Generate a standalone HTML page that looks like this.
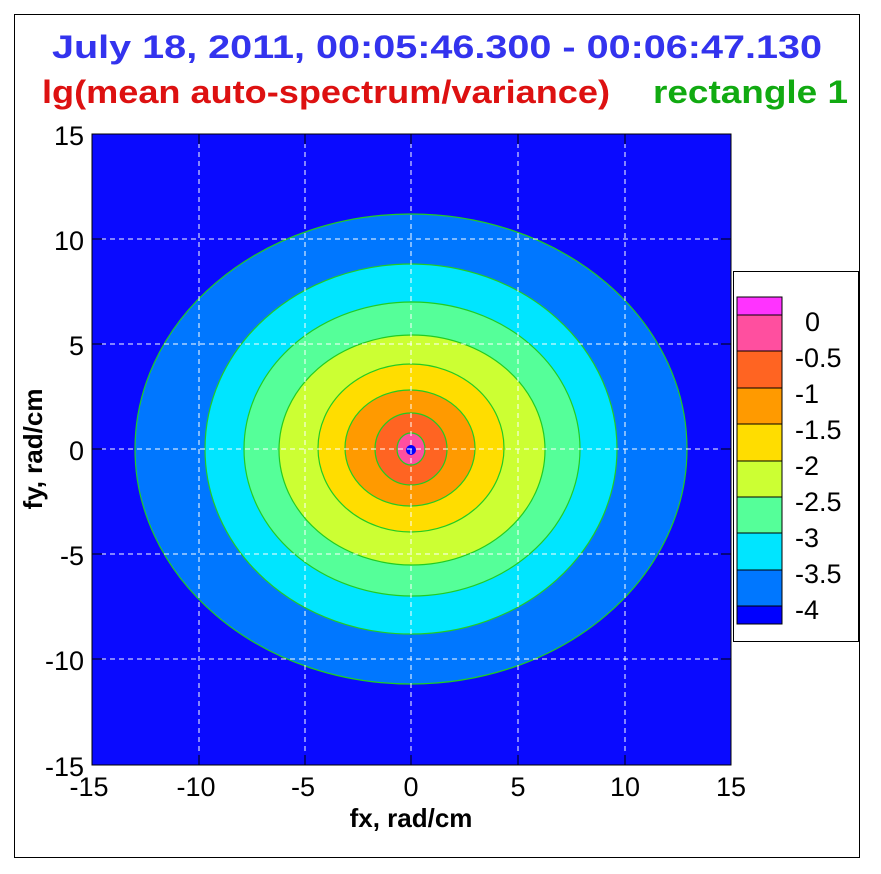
<!DOCTYPE html>
<html><head><style>body{margin:0;background:#fff}svg{display:block}</style></head><body>
<svg width="881" height="874" xmlns="http://www.w3.org/2000/svg" font-family="Liberation Sans, sans-serif">
<rect x="0" y="0" width="881" height="874" fill="#fff"/>
<rect x="14.5" y="14.5" width="845" height="843" fill="none" stroke="#000" stroke-width="1"/>
<text x="52" y="58" font-size="32" font-weight="bold" fill="#3333ee" textLength="770" lengthAdjust="spacingAndGlyphs">July 18, 2011,  00:05:46.300 - 00:06:47.130</text>
<text x="42" y="103" font-size="32" font-weight="bold" fill="#dd1111" textLength="568" lengthAdjust="spacingAndGlyphs">lg(mean auto-spectrum/variance)</text>
<text x="653" y="103" font-size="32" font-weight="bold" fill="#11aa11" textLength="195" lengthAdjust="spacingAndGlyphs">rectangle 1</text>
<defs><clipPath id="c"><rect x="92" y="134" width="639" height="631"/></clipPath></defs>
<g clip-path="url(#c)" stroke="#22cc22" stroke-width="1.2">
<rect x="92" y="134" width="639" height="631" fill="#0a0aff" stroke="none"/>
<ellipse cx="411" cy="449" rx="276" ry="235" fill="#0077ff"/>
<ellipse cx="411" cy="449" rx="206" ry="185" fill="#00e5ff"/>
<ellipse cx="412" cy="449" rx="168" ry="147" fill="#55ff99"/>
<ellipse cx="412" cy="450" rx="133" ry="115" fill="#ccff33"/>
<ellipse cx="411" cy="448" rx="93" ry="84" fill="#ffdd00"/>
<ellipse cx="410" cy="448" rx="65" ry="58" fill="#ff9a00"/>
<ellipse cx="411" cy="449" rx="36" ry="36" fill="#ff6422"/>
<ellipse cx="411" cy="449" rx="14" ry="16" fill="#ff4f9f"/>
<circle cx="411" cy="450" r="5" fill="#0000ff" stroke="none"/>
</g>
<g stroke="#fff" stroke-width="1" stroke-dasharray="5,4">
<line x1="199" y1="134" x2="199" y2="765"/><line x1="305" y1="134" x2="305" y2="765"/><line x1="411" y1="134" x2="411" y2="765"/><line x1="518" y1="134" x2="518" y2="765"/><line x1="625" y1="134" x2="625" y2="765"/>
<line x1="92" y1="239" x2="731" y2="239"/><line x1="92" y1="344" x2="731" y2="344"/><line x1="92" y1="449" x2="731" y2="449"/><line x1="92" y1="554" x2="731" y2="554"/><line x1="92" y1="659" x2="731" y2="659"/>
</g>
<rect x="92" y="134" width="639" height="631" fill="none" stroke="#000" stroke-width="1"/>
<g stroke="#000" stroke-width="1">
<path d="M92 239h10M92 344h10M92 449h10M92 554h10M92 659h10M199 765v-10M305 765v-10M411 765v-10M518 765v-10M625 765v-10M731 239h-10M731 344h-10M731 449h-10M731 554h-10M731 659h-10M199 134v10M305 134v10M411 134v10M518 134v10M625 134v10"/>
</g>
<g font-size="27" fill="#000" text-anchor="end">
<text x="84" y="145">15</text><text x="84" y="250">10</text><text x="84" y="355">5</text><text x="84" y="460">0</text><text x="84" y="565">-5</text><text x="84" y="670">-10</text><text x="84" y="776">-15</text>
</g>
<g font-size="27" fill="#000" text-anchor="middle">
<text x="89" y="796">-15</text><text x="196" y="796">-10</text><text x="303" y="796">-5</text><text x="411" y="796">0</text><text x="518" y="796">5</text><text x="625" y="796">10</text><text x="731" y="796">15</text>
</g>
<text x="411" y="827" text-anchor="middle" font-size="26" font-weight="bold">fx, rad/cm</text>
<text transform="translate(42,449) rotate(-90)" text-anchor="middle" font-size="26" font-weight="bold">fy, rad/cm</text>
<rect x="733.5" y="271.5" width="125" height="370" fill="#fff" stroke="#000"/>
<g stroke="#000" stroke-width="1">
<rect x="737" y="297" width="45" height="18" fill="#ff33ff"/>
<rect x="737" y="315" width="45" height="36" fill="#ff4f9f"/>
<rect x="737" y="351" width="45" height="37" fill="#ff6422"/>
<rect x="737" y="388" width="45" height="36" fill="#ff9a00"/>
<rect x="737" y="424" width="45" height="37" fill="#ffdd00"/>
<rect x="737" y="461" width="45" height="36" fill="#ccff33"/>
<rect x="737" y="497" width="45" height="36" fill="#55ff99"/>
<rect x="737" y="533" width="45" height="37" fill="#00e5ff"/>
<rect x="737" y="570" width="45" height="36" fill="#0077ff"/>
<rect x="737" y="606" width="45" height="18" fill="#0000ff"/>
</g>
<g font-size="27" fill="#000">
<text x="805" y="331">0</text><text x="795" y="367">-0.5</text><text x="795" y="403">-1</text><text x="795" y="439">-1.5</text><text x="795" y="475">-2</text><text x="795" y="511">-2.5</text><text x="795" y="547">-3</text><text x="795" y="583">-3.5</text><text x="795" y="619">-4</text>
</g>
</svg>
</body></html>
